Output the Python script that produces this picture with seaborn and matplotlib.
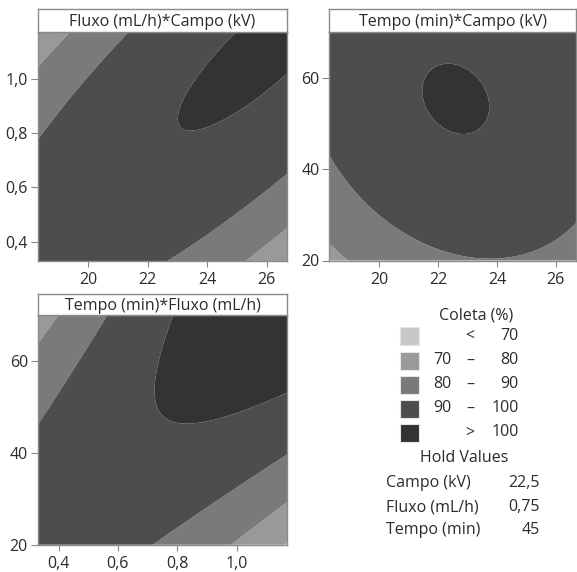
import numpy as np
import matplotlib
matplotlib.use("Agg")
import matplotlib.pyplot as plt
from matplotlib.patches import Rectangle
from matplotlib.ticker import FuncFormatter
import seaborn as sns

# Factors: name, centre, coded step, plotted range
factor_names = ["Campo (kV)", "Fluxo (mL/h)", "Tempo (min)"]
factor_center = [22.5, 0.75, 45]
factor_step = [2.5, 0.25, 15]
factor_low = [18.3, 0.33, 20]
factor_high = [26.7, 1.17, 70]
factor_ticks = [[20, 22, 24, 26], [0.4, 0.6, 0.8, 1.0], [20, 40, 60]]

# Quadratic response surface for Coleta (%) in coded units
coef_const = 99.494
coef_linear = [0.929, 1.167, 2.865]          # A, B, C
coef_square = [-2.584, -2.519, -2.032]       # A², B², C²
coef_inter = [4.367, -1.038, 5.175]          # AB, AC, BC

# Contour bands
band_levels = [70, 80, 90, 100]
band_colors = ["#c8c8c8", "#999999", "#7a7a7a", "#4d4d4d", "#333333"]
band_labels = [("", "<", "70"), ("70", "–", "80"), ("80", "–", "90"),
               ("90", "–", "100"), ("", ">", "100")]

hold_values = ["22,5", "0,75", "45"]

# (x factor, y factor, held factor)
panels = [(0, 1, 2), (0, 2, 1), (1, 2, 0)]


def response(a, b, c):
    x = [a, b, c]
    y = coef_const
    for i in range(3):
        y = y + coef_linear[i] * x[i] + coef_square[i] * x[i] ** 2
    y = y + coef_inter[0] * x[0] * x[1] + coef_inter[1] * x[0] * x[2] + coef_inter[2] * x[1] * x[2]
    return y


sns.set_theme(style="white")
plt.rcParams["font.family"] = ["Open Sans", "DejaVu Sans"]

FS = 11.5
W, H = 577, 572
fig = plt.figure(figsize=(W / 100, H / 100), dpi=100)
fig.patch.set_facecolor("white")


def rect(x0, x1, y0, y1):
    return [x0 / W, 1 - y1 / H, (x1 - x0) / W, (y1 - y0) / H]


axes_px = [(37.7, 287.3, 32.3, 261.0), (329.3, 576.3, 32.3, 260.5), (37.7, 287.3, 315.0, 544.7)]
title_px = [(9.0, 32.3), (9.0, 32.3), (294.0, 315.0)]

frame_col = "#8a8a8a"
text_col = "#2b2b2b"
comma_fmt = FuncFormatter(lambda v, p: (f"{v:g}" if v >= 10 else f"{v:.1f}").replace(".", ","))

for (xi, yi, hi), (x0, x1, y0, y1), (t0, t1) in zip(panels, axes_px, title_px):
    ax = fig.add_axes(rect(x0, x1, y0, y1))
    gx = np.linspace(factor_low[xi], factor_high[xi], 300)
    gy = np.linspace(factor_low[yi], factor_high[yi], 300)
    X, Y = np.meshgrid(gx, gy)
    coded = [0.0, 0.0, 0.0]
    coded[xi] = (X - factor_center[xi]) / factor_step[xi]
    coded[yi] = (Y - factor_center[yi]) / factor_step[yi]
    coded[hi] = np.zeros_like(X)
    Z = response(*coded)
    ax.contourf(X, Y, Z, levels=[-1e9] + band_levels + [1e9], colors=band_colors, antialiased=True)
    ax.set_xlim(factor_low[xi], factor_high[xi])
    ax.set_ylim(factor_low[yi], factor_high[yi])
    ax.set_xticks(factor_ticks[xi])
    ax.set_yticks(factor_ticks[yi])
    ax.xaxis.set_major_formatter(comma_fmt)
    ax.yaxis.set_major_formatter(comma_fmt)
    ax.tick_params(axis="x", which="major", direction="out", length=4, width=0.8,
                   color=frame_col, labelcolor=text_col, labelsize=FS, pad=4, bottom=True)
    ax.tick_params(axis="y", which="major", direction="out", length=5, width=0.8,
                   color=frame_col, labelcolor=text_col, labelsize=FS, pad=2, left=True)
    for s in ax.spines.values():
        s.set_color(frame_col)
        s.set_linewidth(1.0)
    ax.set_xlabel("")
    ax.set_ylabel("")

    # title strip above the panel
    tax = fig.add_axes(rect(x0, x1, t0, t1))
    tax.set_xticks([])
    tax.set_yticks([])
    tax.set_facecolor("white")
    for s in tax.spines.values():
        s.set_color(frame_col)
        s.set_linewidth(1.0)
    tax.text(0.5, 0.45, f"{factor_names[yi]}*{factor_names[xi]}",
             ha="center", va="center", fontsize=FS, color=text_col, transform=tax.transAxes)


def fx(px):
    return px / W


def fy(py):
    return 1 - py / H


# legend for the contour bands
fig.text(fx(476), fy(316), "Coleta (%)", ha="center", va="center", fontsize=FS, color=text_col)
row_y = [336, 360.5, 384.5, 408.5, 432.5]
for col, (lo, sym, hi), ry in zip(band_colors, band_labels, row_y):
    fig.patches.append(Rectangle((fx(400), fy(ry + 9)), 19 / W, 18 / H, transform=fig.transFigure,
                                 facecolor=col, edgecolor="#e6e6e6", linewidth=0.8))
    if lo:
        fig.text(fx(433), fy(ry), lo, ha="left", va="center", fontsize=FS, color=text_col)
    fig.text(fx(470), fy(ry), sym, ha="center", va="center", fontsize=FS, color=text_col)
    fig.text(fx(518.5), fy(ry), hi, ha="right", va="center", fontsize=FS, color=text_col)

fig.text(fx(464), fy(458), "Hold Values", ha="center", va="center", fontsize=FS, color=text_col)
for name, val, ry in zip(factor_names, hold_values, [483, 507, 530.5]):
    fig.text(fx(386), fy(ry), name, ha="left", va="center", fontsize=FS, color=text_col)
    fig.text(fx(540), fy(ry), val, ha="right", va="center", fontsize=FS, color=text_col)

fig.savefig("out.png", dpi=100, facecolor="white")
